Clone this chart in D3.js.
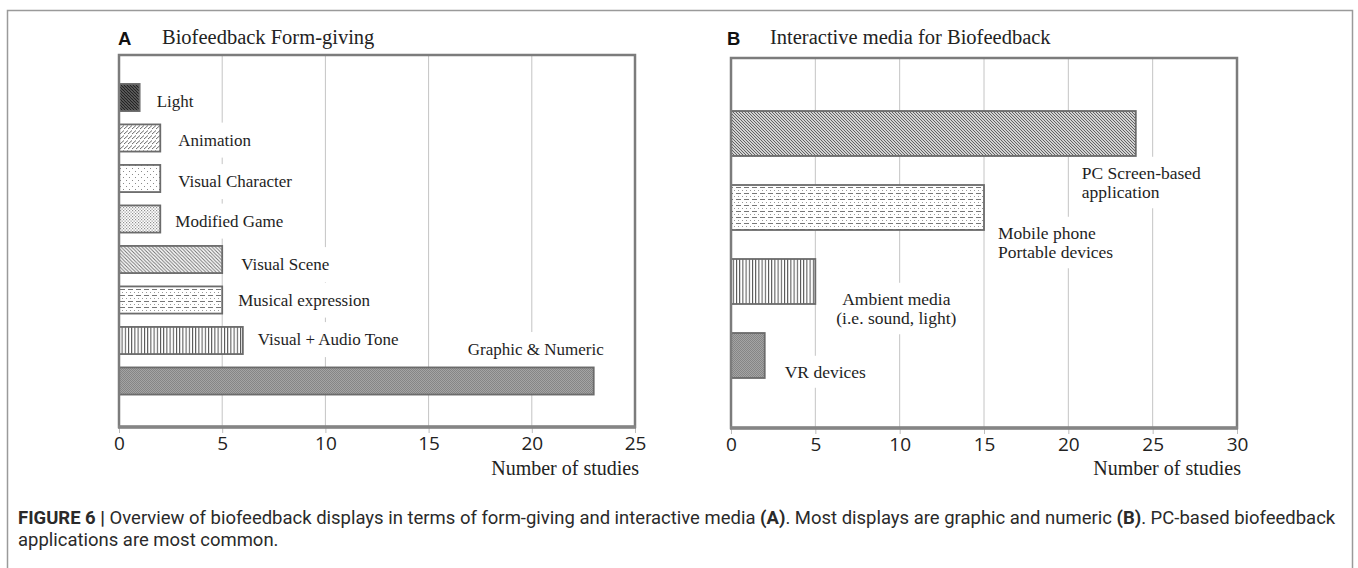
<!DOCTYPE html>
<html><head><meta charset="utf-8">
<script src="https://cdn.jsdelivr.net/npm/d3@7"></script>
<style>body{margin:0;background:#fff;} svg{display:block}</style>
</head><body>
<svg id="fig" width="1358" height="568"></svg>
<script>
// ---------------- DATA ----------------
const categoriesA = ["Light","Animation","Visual Character","Modified Game","Visual Scene","Musical expression","Visual + Audio Tone","Graphic & Numeric"];
const valuesA = [1,2,2,2,5,5,6,23];
const ticksA = [0,5,10,15,20,25];
const titleA = "Biofeedback Form-giving";

const categoriesB = ["PC Screen-based\napplication","Mobile phone\nPortable devices","Ambient media\n(i.e. sound, light)","VR devices"];
const valuesB = [24,15,5,2];
const ticksB = [0,5,10,15,20,25,30];
const titleB = "Interactive media for Biofeedback";

const axisTitle = "Number of studies";
const captionLine1 = [["FIGURE 6 | ",true],["Overview of biofeedback displays in terms of form-giving and interactive media ",false],["(A)",true],[". Most displays are graphic and numeric ",false],["(B)",true],[". PC-based biofeedback",false]];
const captionLine2 = "applications are most common.";

// ---------------- LAYOUT / STYLE ----------------
const svg = d3.select("#fig");
const SERIF = "'Liberation Serif','Times New Roman',serif";
const SANS = "'Open Sans','Noto Sans',sans-serif";
const defs = svg.append("defs");

function pat(id,w,h,bg,draw){
  const p = defs.append("pattern").attr("id",id).attr("patternUnits","userSpaceOnUse").attr("width",w).attr("height",h);
  p.append("rect").attr("width",w).attr("height",h).attr("fill",bg);
  draw(p);
}
pat("pLight",3,3,"#fff",p=>p.append("path").attr("d","M-1,-1L4,4M-1,2L1,4M2,-1L4,1").attr("stroke","#222").attr("stroke-width",1.8));
pat("pAnim",4,5,"#fff",p=>p.append("path").attr("d","M0,4L4,0.5").attr("stroke","#6a6a6a").attr("stroke-width",1));
pat("pDotsSparse",6,6,"#fff",p=>{p.append("rect").attr("x",0).attr("y",0).attr("width",1).attr("height",1).attr("fill","#8a8a8a");p.append("rect").attr("x",3).attr("y",3).attr("width",1).attr("height",1).attr("fill","#8a8a8a");});
pat("pDotsDense",3,3,"#fff",p=>{p.append("rect").attr("x",0).attr("y",0).attr("width",1.2).attr("height",1.2).attr("fill","#8f8f8f");p.append("rect").attr("x",1.5).attr("y",1.5).attr("width",1.2).attr("height",1.2).attr("fill","#8f8f8f");});
pat("pDiagMed",3.5,3.5,"#fff",p=>p.append("path").attr("d","M-1,-1L4.5,4.5M-1,2.5L1,4.5M2.5,-1L4.5,1").attr("stroke","#707070").attr("stroke-width",1));
pat("pDiagPC",3,3,"#fff",p=>p.append("path").attr("d","M-1,-1L4,4M-1,2L1,4M2,-1L4,1").attr("stroke","#5a5a5a").attr("stroke-width",1.05));
pat("pDash",8,6,"#fff",p=>{p.append("rect").attr("x",0).attr("y",1).attr("width",5).attr("height",1).attr("fill","#777");p.append("rect").attr("x",2).attr("y",4).attr("width",1).attr("height",1).attr("fill","#999");p.append("rect").attr("x",6).attr("y",4).attr("width",1).attr("height",1).attr("fill","#999");});
pat("pVert",3.2,4,"#fff",p=>p.append("rect").attr("x",0).attr("y",0).attr("width",1).attr("height",4).attr("fill","#4a4a4a"));
pat("pGray",2,2,"#a4a4a4",p=>{p.append("rect").attr("x",0).attr("y",0).attr("width",1).attr("height",1).attr("fill","#858585");p.append("rect").attr("x",1).attr("y",1).attr("width",1).attr("height",1).attr("fill","#858585");});

const fillsA = ["pLight","pAnim","pDotsSparse","pDotsDense","pDiagMed","pDash","pVert","pGray"];
const fillsB = ["pDiagPC","pDash","pVert","pGray"];

// outer frame
svg.append("rect").attr("x",7.5).attr("y",10.5).attr("width",1345).attr("height",600)
  .attr("fill","none").attr("stroke","#9a9a9a").attr("stroke-width",1.5);

function panel(cfg){
  const g = svg.append("g");
  const x = d3.scaleLinear().domain([0, cfg.ticks[cfg.ticks.length-1]]).range([cfg.left, cfg.right]);
  const y = d3.scaleBand().domain(cfg.cats).range(cfg.bandRange).paddingInner(cfg.padIn).paddingOuter(cfg.padIn/2);

  // gridlines
  g.append("g").selectAll("line").data(cfg.ticks.slice(1,-1)).join("line")
    .attr("x1",d=>x(d)).attr("x2",d=>x(d)).attr("y1",cfg.top).attr("y2",cfg.bottom)
    .attr("stroke","#c4c4c4").attr("stroke-width",1);

  // axis
  const ax = g.append("g").attr("transform",`translate(0,${cfg.bottom})`)
    .call(d3.axisBottom(x).tickValues(cfg.ticks).tickSize(6).tickPadding(3.5).tickFormat(d3.format("d")));
  ax.select(".domain").remove();
  ax.selectAll(".tick line").attr("stroke","#bdbdbd");
  ax.selectAll(".tick text").attr("font-family",SANS).attr("font-size",19).attr("fill","#222");

  // labels with white boxes
  const lg = g.append("g");
  cfg.cats.forEach((c,i)=>{
    const lines = c.split("\n");
    const pos = cfg.labelPos(i, x, y);
    const t = lg.append("text").attr("font-family",SERIF).attr("font-size",cfg.labelSize)
      .attr("fill","#1e1e1e").attr("text-anchor",pos.anchor);
    lines.forEach((ln,k)=>{
      t.append("tspan").attr("x",pos.x).attr("y",pos.y + k*cfg.lineH).attr("dy","0.33em").text(ln);
    });
    const bb = t.node().getBBox();
    lg.insert("rect","text").attr("x",bb.x-6).attr("y",bb.y-cfg.boxPadV).attr("width",bb.width+12).attr("height",bb.height+2*cfg.boxPadV).attr("fill","#fff");
  });
  lg.selectAll("text").raise();

  // bars
  g.append("g").selectAll("rect").data(cfg.vals).join("rect")
    .attr("x",x(0)).attr("y",(d,i)=>y(cfg.cats[i]))
    .attr("width",d=>x(d)-x(0)).attr("height",y.bandwidth())
    .attr("fill",(d,i)=>`url(#${cfg.fills[i]})`).attr("stroke","#6b6b6b").attr("stroke-width",1.8);

  // border
  g.append("rect").attr("x",cfg.left).attr("y",cfg.top).attr("width",cfg.right-cfg.left).attr("height",cfg.bottom-cfg.top)
    .attr("fill","none").attr("stroke","#7c7c7c").attr("stroke-width",2.5);
  g.append("line").attr("x1",cfg.left-1).attr("x2",cfg.right+1).attr("y1",cfg.bottom).attr("y2",cfg.bottom)
    .attr("stroke","#858585").attr("stroke-width",3.6);

  // titles
  g.append("text").attr("x",cfg.letterX).attr("y",45).attr("font-family","'Liberation Sans',Arial,sans-serif")
    .attr("font-weight","bold").attr("font-size",18.5).attr("fill","#111").text(cfg.letter);
  g.append("text").attr("x",cfg.titleX).attr("y",44).attr("font-family",SERIF).attr("font-size",20.5)
    .attr("fill","#222").text(cfg.title);
  g.append("text").attr("x",cfg.right+4).attr("y",475).attr("text-anchor","end").attr("font-family",SERIF)
    .attr("font-size",20).attr("fill","#222").text(axisTitle);
}

const nudgeA = [[17,4],[18,2],[18,3],[15,2],[19,5],[16,0],[15,-1]];
panel({
  cats:categoriesA, vals:valuesA, ticks:ticksA, fills:fillsA, title:titleA, letter:"A",
  left:119, right:635, top:55, bottom:427, bandRange:[77.25,401.25], padIn:0.33,
  letterX:118, titleX:162, labelSize:17, lineH:20, boxPadV:8,
  labelPos:(i,x,y)=>{
    const v = valuesA[i];
    if (v === d3.max(valuesA)) return {x:x(v)+10, y:y(categoriesA[i])-18, anchor:"end"};
    return {x:x(v)+nudgeA[i][0], y:y(categoriesA[i])+y.bandwidth()/2+nudgeA[i][1], anchor:"start"};
  }
});

const nudgeB = [[-54,17,"start"],[14,3,"start"],[81,-5,"middle"],[20,-6,"start"]];
panel({
  cats:categoriesB, vals:valuesB, ticks:ticksB, fills:fillsB, title:titleB, letter:"B",
  left:731, right:1237, top:58, bottom:428, bandRange:[96.5,392.5], padIn:0.392,
  letterX:727, titleX:770, labelSize:17.5, lineH:19.5, boxPadV:6,
  labelPos:(i,x,y)=>({x:x(valuesB[i])+nudgeB[i][0], y:y(categoriesB[i])+y.bandwidth()+nudgeB[i][1], anchor:nudgeB[i][2]})
});

// caption
const CAPF = "'Liberation Sans Narrow','Roboto','Liberation Sans',sans-serif";
const cap = svg.append("g").attr("font-family",CAPF).attr("fill","#2a2a2a");
const l1 = cap.append("text").attr("x",18).attr("y",524).attr("font-size",15);
captionLine1.forEach(([s,b])=>l1.append("tspan").attr("font-weight",b?"bold":"normal").text(s));
const l2 = cap.append("text").attr("x",18).attr("y",546).attr("font-size",15).text(captionLine2);
const w = l1.node().getComputedTextLength();
const fs = 15*1318/w;
l1.attr("font-size",fs); l2.attr("font-size",fs);
</script>
</body></html>
